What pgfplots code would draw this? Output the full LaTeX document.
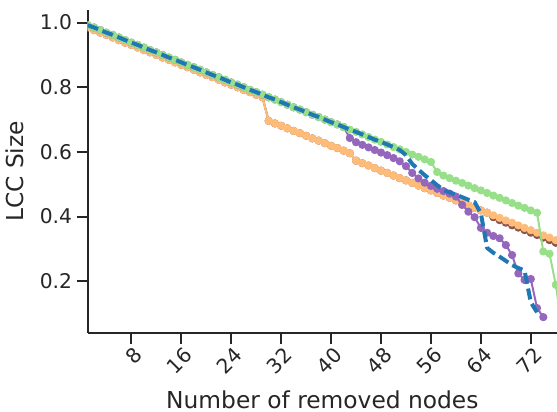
\documentclass[border=0pt]{standalone}
\usepackage{fontspec}
\setmainfont{DejaVu Sans}
\usepackage{pgfplots}
\usepackage{pgfplotstable}
\pgfplotsset{compat=1.18}

\definecolor{spine}{HTML}{262626}
\definecolor{cgreen}{HTML}{98DF8A}
\definecolor{cblue}{HTML}{1F77B4}
\definecolor{cpurple}{HTML}{9467BD}
\definecolor{corange}{HTML}{FFBB78}
\definecolor{cbrown}{HTML}{8C564B}

% LCC size after each removal, one column per strategy
\pgfplotstableread{
x  g     b     p     o     r
1  0.992 0.992 0.992 0.985 0.985
2  0.985 0.985 0.985 0.977 0.977
3  0.977 0.977 0.977 0.969 0.969
4  0.969 0.969 0.969 0.962 0.962
5  0.962 0.962 0.962 0.954 0.954
6  0.954 0.954 0.954 0.946 0.946
7  0.946 0.946 0.946 0.938 0.938
8  0.938 0.938 0.938 0.931 0.931
9  0.931 0.931 0.931 0.923 0.923
10 0.923 0.923 0.923 0.915 0.915
11 0.915 0.915 0.915 0.908 0.908
12 0.908 0.908 0.908 0.900 0.900
13 0.900 0.900 0.900 0.892 0.892
14 0.892 0.892 0.892 0.885 0.885
15 0.885 0.885 0.885 0.877 0.877
16 0.877 0.877 0.877 0.869 0.869
17 0.869 0.869 0.869 0.862 0.862
18 0.862 0.862 0.862 0.854 0.854
19 0.854 0.854 0.854 0.846 0.846
20 0.846 0.846 0.846 0.838 0.838
21 0.838 0.838 0.838 0.831 0.831
22 0.831 0.831 0.831 0.823 0.823
23 0.823 0.823 0.823 0.815 0.815
24 0.815 0.815 0.815 0.808 0.808
25 0.808 0.808 0.808 0.800 0.800
26 0.800 0.800 0.800 0.792 0.792
27 0.792 0.792 0.792 0.785 0.785
28 0.785 0.785 0.785 0.777 0.777
29 0.777 0.777 0.777 0.769 0.769
30 0.769 0.769 0.769 0.696 0.696
31 0.762 0.762 0.762 0.688 0.688
32 0.754 0.754 0.754 0.681 0.681
33 0.746 0.746 0.746 0.673 0.673
34 0.738 0.738 0.738 0.665 0.665
35 0.731 0.731 0.731 0.658 0.658
36 0.723 0.723 0.723 0.650 0.650
37 0.715 0.715 0.715 0.642 0.642
38 0.708 0.708 0.708 0.635 0.635
39 0.700 0.700 0.700 0.627 0.627
40 0.692 0.692 0.692 0.619 0.619
41 0.685 0.685 0.685 0.612 0.612
42 0.677 0.677 0.677 0.604 0.604
43 0.669 0.669 0.643 0.596 0.596
44 0.662 0.662 0.630 0.573 0.573
45 0.654 0.654 0.622 0.565 0.565
46 0.646 0.646 0.614 0.558 0.558
47 0.638 0.638 0.606 0.550 0.550
48 0.631 0.631 0.598 0.542 0.542
49 0.623 0.623 0.590 0.535 0.535
50 0.615 0.615 0.581 0.527 0.527
51 0.608 0.606 0.571 0.519 0.519
52 0.600 0.590 0.556 0.512 0.512
53 0.592 0.563 0.535 0.504 0.504
54 0.585 0.545 0.518 0.496 0.496
55 0.577 0.528 0.505 0.488 0.488
56 0.569 0.513 0.495 0.481 0.481
57 0.538 0.497 0.486 0.473 0.473
58 0.527 0.483 0.479 0.465 0.465
59 0.519 0.475 0.471 0.458 0.458
60 0.511 0.468 0.462 0.450 0.450
61 0.504 0.460 0.436 0.442 0.442
62 0.496 0.452 0.415 0.435 0.435
63 0.488 0.445 0.398 0.427 0.427
64 0.481 0.410 0.365 0.419 0.419
65 0.473 0.303 0.350 0.412 0.412
66 0.465 0.288 0.340 0.404 0.398
67 0.458 0.276 0.333 0.396 0.389
68 0.450 0.263 0.312 0.388 0.381
69 0.442 0.250 0.281 0.381 0.373
70 0.434 0.241 0.224 0.373 0.366
71 0.427 0.233 0.204 0.365 0.358
72 0.419 0.135 0.207 0.358 0.350
73 0.412 0.104 0.117 0.350 0.343
74 0.292 nan   0.089 0.342 0.335
75 0.285 nan   nan   0.335 0.327
76 0.189 nan   nan   0.327 0.319
77 0.060 nan   nan   0.319 0.312
}\lcc

\begin{document}
\begin{tikzpicture}
\begin{axis}[
  scale only axis,
  width=352pt, height=242.25pt,
  xmin=1, xmax=76.2,
  ymin=0.040, ymax=1.039,
  axis x line=bottom, axis y line=left,
  axis line style={-, spine, line width=1.7pt},
  tick align=outside,
  major tick length=8.25pt,
  tick style={spine, line width=1.5pt},
  xtick={8,16,...,72},
  ytick={0.2,0.4,0.6,0.8,1.0},
  clip marker paths=true,
  tick label style={font=\fontsize{15.2}{18}\selectfont, text=spine},
  /pgf/number format/assume math mode=true,
  yticklabel style={/pgf/number format/.cd, fixed, fixed zerofill, precision=1},
  xticklabel style={rotate=45, anchor=north east, inner sep=2pt, xshift=2pt},
  every axis x label/.style={at={(axis description cs:0.5,-0.2340)}, anchor=base},
  every axis y label/.style={at={(axis description cs:-0.1347,0.5)}, rotate=90, anchor=south},
  label style={font=\fontsize{17.5}{21}\selectfont, text=spine, inner sep=0pt},
  xlabel={Number of removed nodes},
  ylabel={LCC Size},
  every axis plot/.append style={line join=round},
]
\addplot[cbrown, line width=1.5pt, mark=*, mark size=2.3pt] table[x=x, y=r] {\lcc};
\addplot[corange, line width=1.5pt, mark=*, mark size=2.3pt] table[x=x, y=o] {\lcc};
\addplot[cpurple, line width=1.5pt, mark=*, mark size=2.3pt] table[x=x, y=p] {\lcc};
\addplot[cgreen, line width=1.5pt, mark=*, mark size=2.3pt] table[x=x, y=g] {\lcc};
\addplot[cblue, line width=3pt, dash pattern=on 8.3pt off 3.6pt] table[x=x, y=b] {\lcc};
\end{axis}
\pgfresetboundingbox
\path ([shift={(-65.8pt,-59.25pt)}]current axis.south west) rectangle ([shift={(0pt,7.5pt)}]current axis.north east);
\end{tikzpicture}
\end{document}
